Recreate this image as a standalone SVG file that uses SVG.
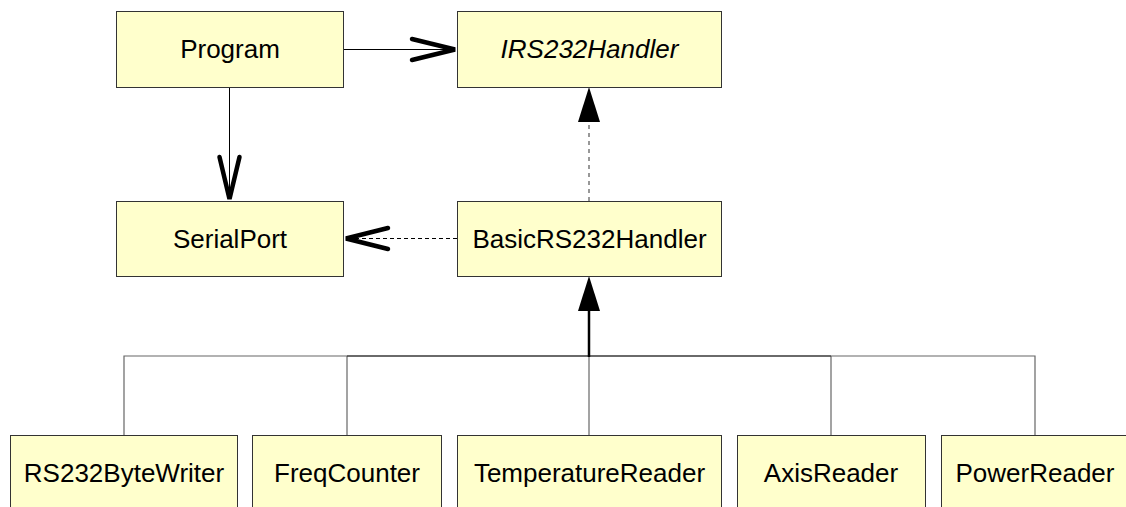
<svg xmlns="http://www.w3.org/2000/svg" width="1126" height="507" viewBox="0 0 1126 507">
  <style>
    .box rect { fill: #ffffcc; stroke: #333333; stroke-width: 1; }
    .box text { font-family: "Liberation Sans", Arial, sans-serif; font-size: 26px; fill: #000000; text-anchor: middle; }
    .italic { font-style: italic; }
    .assoc { fill: none; stroke: #000000; stroke-width: 1; }
    .dep { fill: none; stroke: #000000; stroke-width: 1; stroke-dasharray: 4 3; }
    .real { fill: none; stroke: #777777; stroke-width: 1.5; stroke-dasharray: 4 4; }
    .branch { fill: none; stroke: #666666; stroke-width: 1.2; }
    .stem { fill: none; stroke: #000000; stroke-width: 2.5; }
    .open { fill: none; stroke: #000000; stroke-width: 4.5; stroke-linecap: round; stroke-linejoin: miter; }
    .tri { fill: #000000; stroke: none; }
  </style>
  <rect width="1126" height="507" fill="#ffffff"/>

  <g id="connectors">
    <!-- Program uses IRS232Handler -->
    <line class="assoc" x1="343" y1="49.5" x2="455" y2="49.5"/>
    <polyline class="open" points="412,39 455,49.5 412,60"/>
    <!-- Program uses SerialPort -->
    <line class="assoc" x1="229.5" y1="87" x2="229.5" y2="199"/>
    <polyline class="open" points="219.5,157 229.5,199 239.5,157"/>
    <!-- BasicRS232Handler depends on SerialPort -->
    <line class="dep" x1="457" y1="238.5" x2="346" y2="238.5"/>
    <polyline class="open" points="388,228 346,238.5 388,249"/>
    <!-- BasicRS232Handler realizes IRS232Handler -->
    <line class="real" x1="589" y1="201" x2="589" y2="121"/>
    <polygon class="tri" points="589,87 578,122 600,122"/>
    <!-- subclasses generalize BasicRS232Handler -->
    <polyline class="branch" points="124,435 124,356 1035,356 1035,435"/>
    <line class="branch" x1="347" y1="356" x2="347" y2="435"/>
    <line class="branch" x1="589" y1="356" x2="589" y2="435"/>
    <line class="branch" x1="831" y1="356" x2="831" y2="435"/>
    <line x1="347" y1="356" x2="831" y2="356" stroke="#222222" stroke-width="1.2"/>
    <line class="stem" x1="589" y1="357" x2="589" y2="310"/>
    <polygon class="tri" points="589,276 578,311 600,311"/>
  </g>

  <g id="program" class="box">
    <rect x="116.5" y="11.5" width="227" height="76"/>
    <text x="230" y="58">Program</text>
  </g>
  <g id="irs232handler" class="box">
    <rect x="457.5" y="11.5" width="264" height="76"/>
    <text class="italic" x="589.5" y="58">IRS232Handler</text>
  </g>
  <g id="serialport" class="box">
    <rect x="116.5" y="201.5" width="227" height="75"/>
    <text x="230" y="248">SerialPort</text>
  </g>
  <g id="basicrs232handler" class="box">
    <rect x="457.5" y="201.5" width="264" height="75"/>
    <text x="589.5" y="248">BasicRS232Handler</text>
  </g>
  <g id="rs232bytewriter" class="box">
    <rect x="10.5" y="435.5" width="227" height="76"/>
    <text x="124" y="482">RS232ByteWriter</text>
  </g>
  <g id="freqcounter" class="box">
    <rect x="252.5" y="435.5" width="189" height="76"/>
    <text x="347" y="482">FreqCounter</text>
  </g>
  <g id="temperaturereader" class="box">
    <rect x="457.5" y="435.5" width="264" height="76"/>
    <text x="589.5" y="482">TemperatureReader</text>
  </g>
  <g id="axisreader" class="box">
    <rect x="737.5" y="435.5" width="188" height="76"/>
    <text x="831" y="482">AxisReader</text>
  </g>
  <g id="powerreader" class="box">
    <rect x="941.5" y="435.5" width="188" height="76"/>
    <text x="1035" y="482">PowerReader</text>
  </g>
</svg>
